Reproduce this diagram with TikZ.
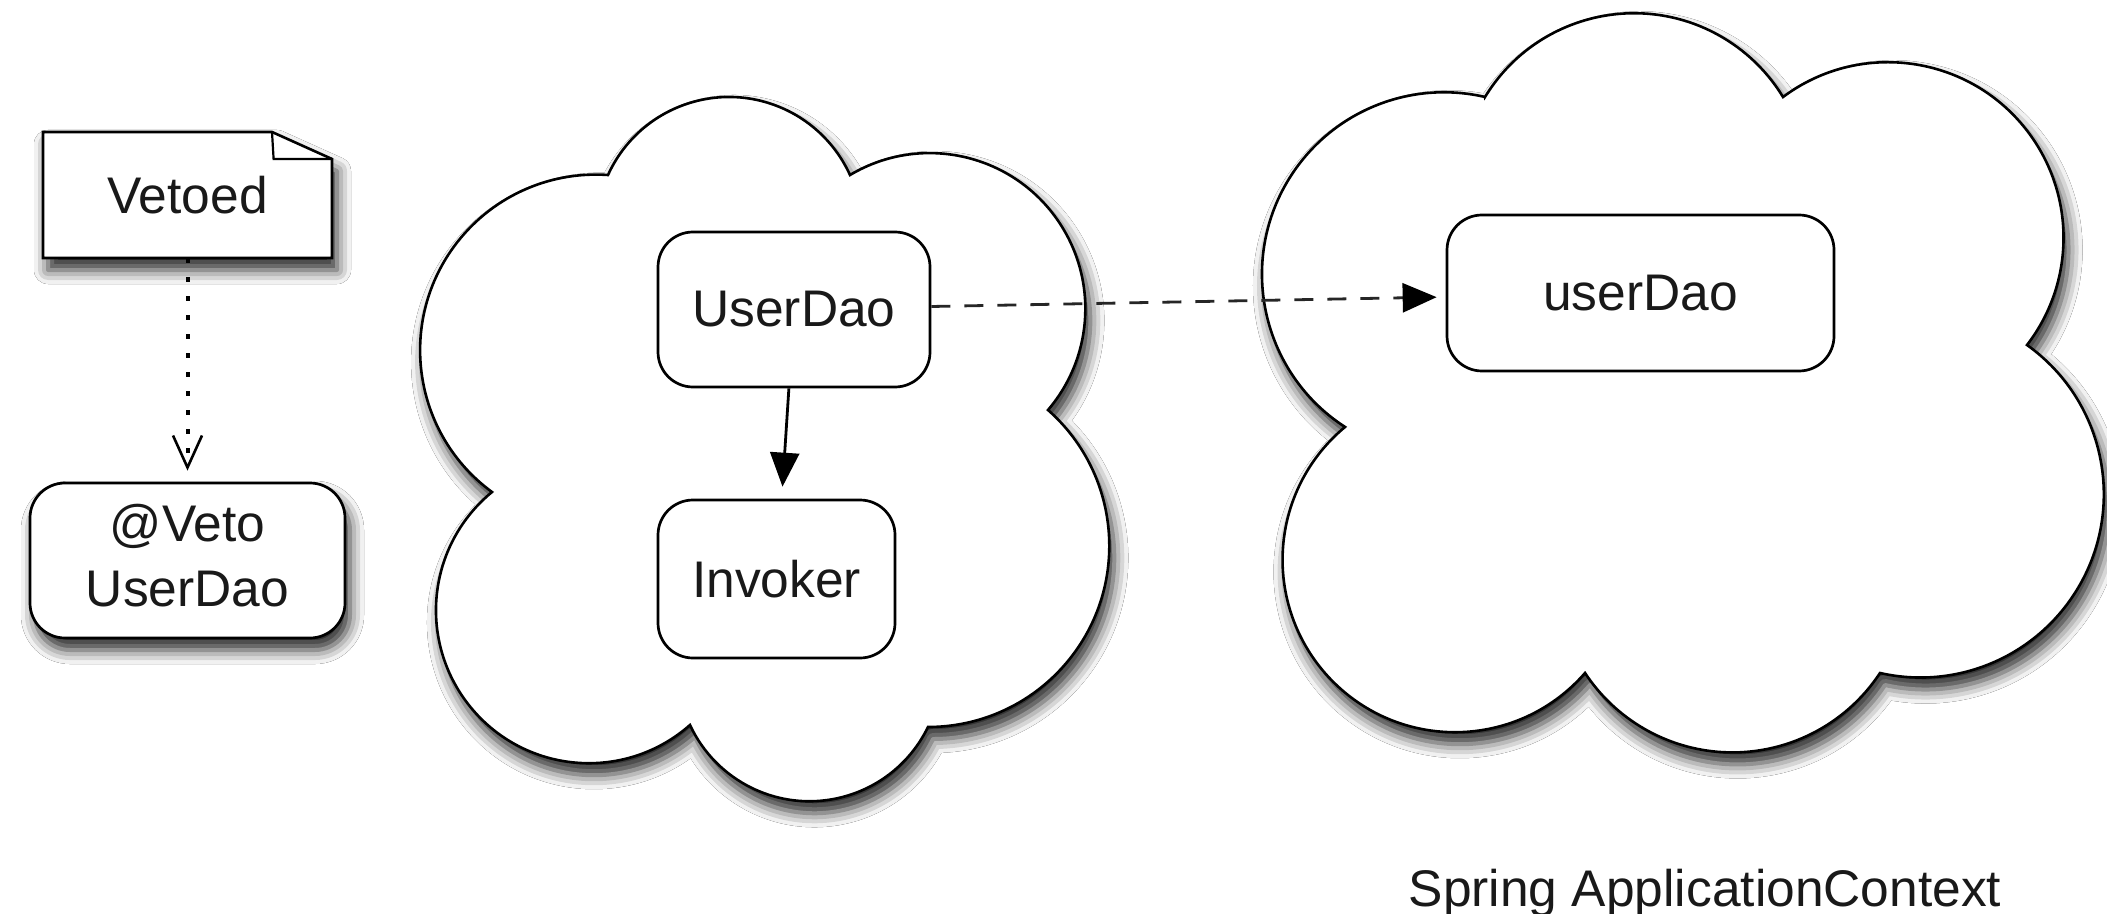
\documentclass[tikz,border=0pt]{standalone}
\usepackage{fontspec}
\setmainfont{Liberation Sans}
\usetikzlibrary{arrows.meta,shadows.blur,calc}

\makeatletter
% One circular lobe of a cloud: it starts at P (#2,#3), passes M (#4,#5)
% and ends at Q (#6,#7); all in pixel units with y pointing down.
% The arc is stored in the macro \lb#1 for use inside a path.
\newcommand\cloudlobe[7]{%
  \pgfmathsetmacro\lb@bx{((#4)-(#2))/100}%
  \pgfmathsetmacro\lb@by{((#5)-(#3))/100}%
  \pgfmathsetmacro\lb@cx{((#6)-(#2))/100}%
  \pgfmathsetmacro\lb@cy{((#7)-(#3))/100}%
  \pgfmathsetmacro\lb@d{2*((\lb@bx)*(\lb@cy)-(\lb@by)*(\lb@cx))}%
  \pgfmathsetmacro\lb@bb{(\lb@bx)*(\lb@bx)+(\lb@by)*(\lb@by)}%
  \pgfmathsetmacro\lb@cc{(\lb@cx)*(\lb@cx)+(\lb@cy)*(\lb@cy)}%
  \pgfmathsetmacro\lb@ux{((\lb@cy)*(\lb@bb)-(\lb@by)*(\lb@cc))/(\lb@d)}%
  \pgfmathsetmacro\lb@uy{((\lb@bx)*(\lb@cc)-(\lb@cx)*(\lb@bb))/(\lb@d)}%
  \pgfmathsetmacro\lb@r{100*veclen(\lb@ux,\lb@uy)}%
  \pgfmathsetmacro\lb@sa{atan2(0-(\lb@uy),0-(\lb@ux))}%
  \pgfmathsetmacro\lb@ea{atan2((\lb@cy)-(\lb@uy),(\lb@cx)-(\lb@ux))}%
  \pgfmathsetmacro\lb@ea{(\lb@sa)+mod((\lb@ea)-(\lb@sa)+720,360)}%
  \expandafter\xdef\csname lb#1\endcsname{arc[start angle=\lb@sa,end angle=\lb@ea,radius=\lb@r]}%
}
\makeatother

\begin{document}
\begin{tikzpicture}[x=0.5pt, y=-0.5pt,
  every node/.style={font=\fontsize{25.75}{32.5}\selectfont, text=black!90},
  box/.style={draw, line width=1.35pt, rounded corners=17.5pt, fill=white,
    inner sep=0pt, align=center},
  outline/.style={draw, line width=1.3pt, fill=white},
  soft/.style={blur shadow={shadow xshift=2.5pt, shadow yshift=-6pt,
    shadow blur radius=7pt, shadow opacity=85}},
  conn/.style={line width=1.4pt, draw=black},
]
\fill[white] (0,0) rectangle (2107,914);
\useasboundingbox (0,0) rectangle (2107,914);

% ---- note with a folded corner ----
\draw[outline, soft, line join=miter] (43,258) -- (43,132) -- (272,132)
  -- (332,159) -- (332,258) -- cycle;
\draw[line width=1.1pt] (272,132) -- (273.6,159) -- (332,159);
\node[minimum width=144.5pt, minimum height=63pt, inner sep=0pt] (vetoed)
  at (187.5,195) {Vetoed};

% ---- left cloud ----
\cloudlobe{OneTop}{608}{175}{730}{97}{850}{175}
\cloudlobe{OneRU}{850}{175}{1037}{196}{1048}{410}
\cloudlobe{OneRD}{1048}{410}{1107}{517}{928}{727}
\cloudlobe{OneBot}{928}{727}{817}{801}{690}{725}
\cloudlobe{OneLD}{690}{725}{436}{607}{492}{492}
\cloudlobe{OneLU}{492}{492}{490}{210}{608}{175}
\draw[outline, soft] (608,175) \lbOneTop \lbOneRU \lbOneRD \lbOneBot
  \lbOneLD \lbOneLU -- cycle;

% ---- right cloud (application context) ----
\cloudlobe{TwoTop}{1485}{97}{1650}{14}{1783}{97}
\cloudlobe{TwoRU}{1783}{97}{2040}{150}{2027}{345}
\cloudlobe{TwoRD}{2027}{345}{2100}{457}{1880}{673}
\cloudlobe{TwoBot}{1880}{673}{1720}{752}{1585}{673}
\cloudlobe{TwoLD}{1585}{673}{1290}{610}{1345}{427}
\cloudlobe{TwoLU}{1345}{427}{1262}{277}{1485}{97}
\draw[outline, soft] (1485,97) \lbTwoTop \lbTwoRU \lbTwoRD \lbTwoBot
  \lbTwoLD \lbTwoLU -- cycle;

% ---- annotated class ----
\node[box, soft, minimum width=157.5pt, minimum height=77.5pt, text depth=5pt]
  (veto) at (187.5,560.5) {@Veto\\UserDao};

% ---- beans ----
\node[box, minimum width=136pt, minimum height=77.5pt] (ud) at (794,309.5) {UserDao};
\node[box, minimum width=118.5pt, minimum height=79pt] (inv) at (776.5,579) {Invoker};
\node[box, minimum width=193.5pt, minimum height=78pt] (ctx) at (1640.5,293) {userDao};
\node[anchor=base] (ctxlabel) at (1705,906) {Spring ApplicationContext};

% ---- connectors ----
\draw[conn, line width=2pt, dash pattern=on 2.2pt off 7.3pt, shorten >=5.5pt,
  -{Straight Barb[length=16pt, width=14.5pt, line width=1.3pt]}] (vetoed) -- (veto);
\draw[conn, shorten >=6pt, -{Triangle[length=17pt, width=14.5pt]}] (ud) -- (inv);
\draw[conn, draw=black!85, dash pattern=on 9.5pt off 7pt, shorten >=4.5pt,
  -{Triangle[length=17pt, width=14.5pt, color=black]}]
  ($(ud.east)+(0,-3)$) -- ($(ctx.west)+(0,4)$);
\end{tikzpicture}
\end{document}
